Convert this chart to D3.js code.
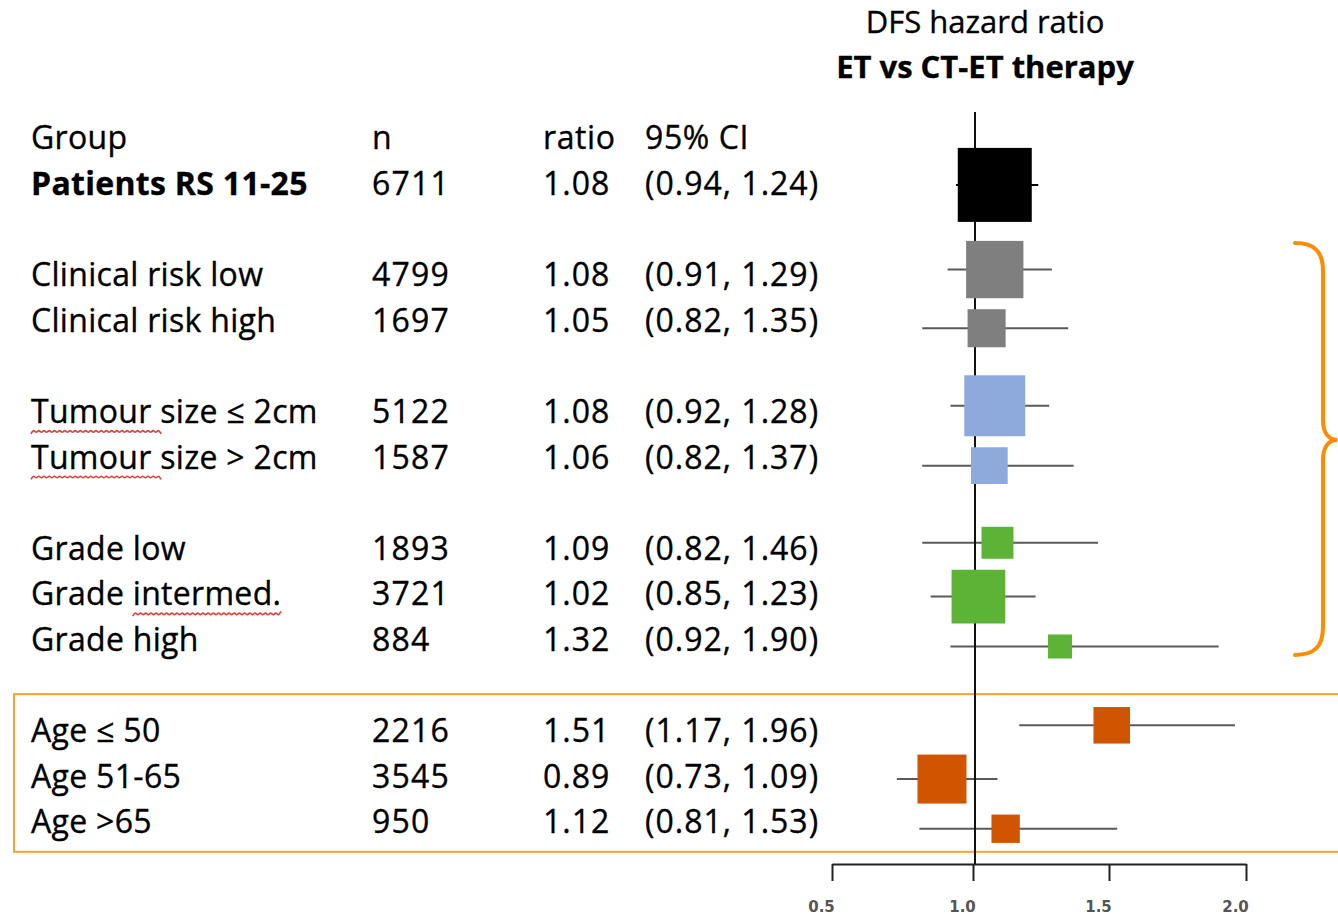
<!DOCTYPE html>
<html>
<head>
<meta charset="utf-8">
<title>DFS hazard ratio - forest plot</title>
<script src="https://d3js.org/d3.v7.min.js"></script>
<style>
  body { margin: 0; background: #fff; }
  svg { display: block; font-family: "Open Sans", sans-serif; }
  .txt { stroke: #000; stroke-width: 0.35px; }
</style>
</head>
<body>
<svg id="chart" width="1338" height="918"></svg>
<script>

var groups  = ["Patients RS 11-25", "Clinical risk low", "Clinical risk high",
               "Tumour size \u2264 2cm", "Tumour size > 2cm",
               "Grade low", "Grade intermed.", "Grade high",
               "Age \u2264 50", "Age 51-65", "Age >65"];
var blocks  = ["all", "clinical", "clinical", "size", "size",
               "grade", "grade", "grade", "age", "age", "age"];
var nValues = [6711, 4799, 1697, 5122, 1587, 1893, 3721, 884, 2216, 3545, 950];
var ratios  = [1.08, 1.08, 1.05, 1.08, 1.06, 1.09, 1.02, 1.32, 1.51, 0.89, 1.12];
var ciLow   = [0.94, 0.91, 0.82, 0.92, 0.82, 0.82, 0.85, 0.92, 1.17, 0.73, 0.81];
var ciHigh  = [1.24, 1.29, 1.35, 1.28, 1.37, 1.46, 1.23, 1.90, 1.96, 1.09, 1.53];

var columns    = ["Group", "n", "ratio", "95% CI"];
var tickValues = [0.5, 1.0, 1.5, 2.0];
var tickLabels = ["0.5", "1.0", "1.5", "2.0"];
var titleLines = ["DFS hazard ratio", "ET vs CT-ET therapy"];
var misspelled = ["Tumour", "intermed."];   // spell-check squiggles in the original slide

var colors = { all: "#000000", clinical: "#7f7f7f", size: "#8eaadc", grade: "#5cb336", age: "#d15400" };
var colX = [31, 372, 543, 645];

// row 0 = header, a blank row between blocks
var rows = [], r = 0;
blocks.forEach(function(b, i) {
  if (i === 0) r = 1;
  else r += (b !== blocks[i - 1]) ? 2 : 1;
  rows.push(r);
});

var data = groups.map(function(g, i) {
  return { name: g, block: blocks[i], n: nValues[i], ratio: ratios[i],
           lo: ciLow[i], hi: ciHigh[i], row: rows[i],
           prec: 1 / Math.log(ciHigh[i] / ciLow[i]) };   // square side ~ sqrt(inverse variance)
});

var svg = d3.select("#chart");

var y = d3.scaleLinear().domain([0, d3.max(rows)]).range([149.3, 833.3]); // text baselines
var x = d3.scaleLinear().domain(tickValues).range([832, 973, 1109, 1246]);
var side = d3.scaleLinear().domain(d3.extent(data, function(d) { return d.prec; })).range([24, 74]);

// marker centres start on the text row, then neighbours in a block are pushed apart
data.forEach(function(d) { d.s = side(d.prec); d.cy = y(d.row) - 10; });
for (var it = 0; it < 30; it++) {
  for (var i = 1; i < data.length; i++) {
    var a = data[i - 1], b = data[i];
    if (a.block !== b.block) continue;
    var need = a.s / 2 + b.s / 2 + 11 - (b.cy - a.cy);
    if (need > 0) { a.cy -= need / 2; b.cy += need / 2; }
  }
}

// title
svg.selectAll(".title")
    .data(titleLines)
  .enter().append("text")
    .attr("class", "title txt")
    .attr("x", 985)
    .attr("y", function(d, i) { return 33 + i * 45; })
    .attr("text-anchor", "middle")
    .attr("font-size", 31)
    .attr("font-weight", function(d, i) { return i ? "bold" : "normal"; })
    .attr("fill", "#000")
    .text(function(d) { return d; });

// orange box round the age rows, brace round the others
var ageRows = data.filter(function(d) { return d.block === "age"; });
var boxTop = y(d3.min(ageRows, function(d) { return d.row; })) - 48,
    boxBot = y(d3.max(ageRows, function(d) { return d.row; })) + 18.5;
svg.append("rect")
    .attr("x", 14).attr("y", boxTop)
    .attr("width", 1400).attr("height", boxBot - boxTop)
    .attr("fill", "none").attr("stroke", "#ffa030").attr("stroke-width", 2);

var braced = data.filter(function(d) { return d.block !== "all" && d.block !== "age"; });
var bt = y(d3.min(braced, function(d) { return d.row; })) - 43,
    bb = y(d3.max(braced, function(d) { return d.row; })) + 4,
    bm = bt + (bb - bt) * 0.478;
svg.append("path")
    .attr("d", "M1295," + bt + " C1314," + bt + " 1323," + (bt + 8) + " 1323," + (bt + 28) +
               " L1323," + (bm - 20) + " C1323," + (bm - 8) + " 1328," + bm + " 1337," + bm +
               " C1328," + bm + " 1323," + (bm + 8) + " 1323," + (bm + 20) +
               " L1323," + (bb - 28) + " C1323," + (bb - 8) + " 1314," + bb + " 1295," + bb)
    .attr("fill", "none").attr("stroke", "#ff8c00").attr("stroke-width", 4)
    .attr("stroke-linecap", "round");

// header row
svg.selectAll(".colhead")
    .data(columns)
  .enter().append("text")
    .attr("class", "colhead txt")
    .attr("x", function(d, i) { return colX[i]; })
    .attr("y", y(0))
    .attr("font-size", 32)
    .attr("letter-spacing", function(d, i) { return i ? "0.6px" : "0.3px"; })
    .attr("fill", "#000")
    .text(function(d) { return d; });

// table rows
var rowG = svg.selectAll(".row")
    .data(data)
  .enter().append("g")
    .attr("class", "row txt")
    .attr("font-size", 32)
    .attr("fill", "#000");

rowG.append("text")
    .attr("class", "label")
    .attr("x", colX[0]).attr("y", function(d) { return y(d.row); })
    .attr("letter-spacing", "0.3px")
    .attr("font-weight", function(d) { return d.block === "all" ? "bold" : "normal"; })
    .text(function(d) { return d.name; });
rowG.append("text")
    .attr("x", colX[1]).attr("y", function(d) { return y(d.row); })
    .attr("letter-spacing", "1.2px")
    .text(function(d) { return d.n; });
rowG.append("text")
    .attr("x", colX[2]).attr("y", function(d) { return y(d.row); })
    .attr("letter-spacing", "1px")
    .text(function(d) { return d.ratio.toFixed(2); });
rowG.append("text")
    .attr("x", colX[3]).attr("y", function(d) { return y(d.row); })
    .attr("letter-spacing", "1px")
    .text(function(d) { return "(" + d.lo.toFixed(2) + ", " + d.hi.toFixed(2) + ")"; });

// red squiggles under the flagged words
var wave = d3.line().curve(d3.curveBasis);
rowG.selectAll(".label").each(function(d) {
  var node = this;
  misspelled.forEach(function(w) {
    var k = d.name.indexOf(w);
    if (k < 0) return;
    var x0 = node.getStartPositionOfChar(k).x;
    var x1 = x0 + node.getSubStringLength(k, w.length) + (k === 0 ? 10 : 0);
    var pts = [];
    for (var px = x0, j = 0; px <= x1; px += 2.6, j++) pts.push([px, y(d.row) + 8.5 + (j % 2 ? -2.4 : 2.4)]);
    svg.append("path").attr("d", wave(pts))
        .attr("fill", "none").attr("stroke", "#ec3b3b").attr("stroke-width", 1.6);
  });
});

// whiskers
svg.selectAll(".ci")
    .data(data)
  .enter().append("line")
    .attr("class", "ci")
    .attr("x1", function(d) { return x(d.lo); })
    .attr("x2", function(d) { return x(d.hi); })
    .attr("y1", function(d) { return d.cy; })
    .attr("y2", function(d) { return d.cy; })
    .attr("stroke", function(d) { return d.block === "all" ? "#000" : "#5a5a5a"; })
    .attr("stroke-width", 2);

// line of no effect
svg.append("line")
    .attr("x1", x(1) + 2).attr("x2", x(1) + 2)
    .attr("y1", 112).attr("y2", 864)
    .attr("stroke", "#111").attr("stroke-width", 2);

// squares
svg.selectAll(".box")
    .data(data)
  .enter().append("rect")
    .attr("class", "box")
    .attr("x", function(d) { return x(d.ratio) - d.s / 2; })
    .attr("y", function(d) { return d.cy - d.s / 2; })
    .attr("width", function(d) { return d.s; })
    .attr("height", function(d) { return d.s; })
    .attr("fill", function(d) { return colors[d.block]; });

// axis
var axis = svg.append("g")
    .attr("transform", "translate(0,864)")
    .call(d3.axisBottom(x)
      .tickValues(tickValues)
      .tickFormat(function(d, i) { return tickLabels[i]; })
      .tickSize(17)
      .tickSizeOuter(0)
      .tickPadding(20));
axis.select(".domain").attr("stroke", "#222").attr("stroke-width", 2);
axis.selectAll(".tick line").attr("stroke", "#222").attr("stroke-width", 2);
axis.selectAll(".tick text")
    .attr("dx", -11)
    .attr("font-family", "DejaVu Sans")
    .attr("font-size", 15)
    .attr("font-weight", "bold")
    .attr("fill", "#555");

</script>
</body>
</html>
